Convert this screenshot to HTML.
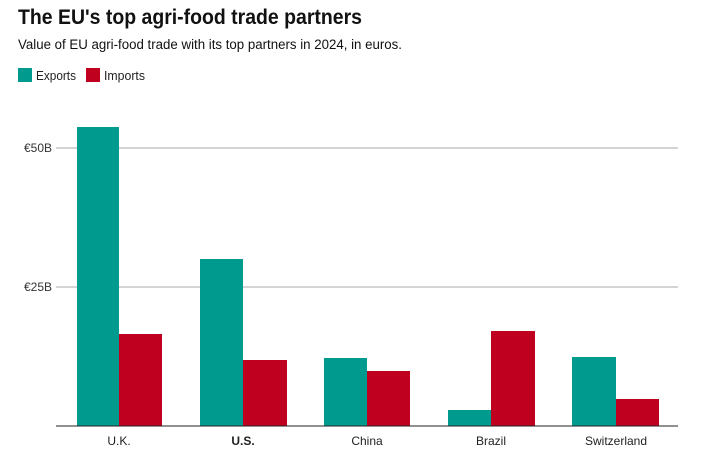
<!DOCTYPE html>
<html><head><meta charset="utf-8"><style>body{margin:0;background:#fff}svg{display:block}</style></head>
<body>
<svg width="715" height="473" xmlns="http://www.w3.org/2000/svg" font-family="Liberation Sans, sans-serif">
<text x="18" y="24" font-size="21" font-weight="bold" fill="#111" textLength="344" lengthAdjust="spacingAndGlyphs">The EU's top agri-food trade partners</text>
<text x="18" y="49" font-size="13.5" fill="#111" textLength="384" lengthAdjust="spacingAndGlyphs">Value of EU agri-food trade with its top partners in 2024, in euros.</text>
<rect x="18" y="68" width="14" height="14" fill="#009a8e"/>
<text x="36" y="80" font-size="12.5" fill="#222" textLength="40" lengthAdjust="spacingAndGlyphs">Exports</text>
<rect x="86" y="68" width="14" height="14" fill="#c0001f"/>
<text x="104" y="80" font-size="12.5" fill="#222" textLength="41" lengthAdjust="spacingAndGlyphs">Imports</text>
<line x1="56" y1="148" x2="678" y2="148" stroke="#aaa" stroke-width="1"/>
<line x1="56" y1="287" x2="678" y2="287" stroke="#aaa" stroke-width="1"/>
<text x="52" y="152" font-size="12" fill="#333" text-anchor="end">€50B</text>
<text x="52" y="291" font-size="12" fill="#333" text-anchor="end">€25B</text>
<g fill="#009a8e">
<rect x="77" y="127" width="42" height="299"/>
<rect x="200" y="259" width="43" height="167"/>
<rect x="324" y="358" width="43" height="68"/>
<rect x="448" y="410" width="43" height="16"/>
<rect x="572" y="357" width="44" height="69"/>
</g>
<g fill="#c0001f">
<rect x="119" y="334" width="43" height="92"/>
<rect x="243" y="360" width="44" height="66"/>
<rect x="367" y="371" width="43" height="55"/>
<rect x="491" y="331" width="44" height="95"/>
<rect x="616" y="399" width="43" height="27"/>
</g>
<line x1="56" y1="426" x2="678" y2="426" stroke="#222" stroke-width="1"/>
<g font-size="12" fill="#222" text-anchor="middle">
<text x="119" y="445">U.K.</text>
<text x="243" y="445" font-weight="bold">U.S.</text>
<text x="367" y="445">China</text>
<text x="491" y="445">Brazil</text>
<text x="616" y="445">Switzerland</text>
</g>
</svg>
</body></html>
